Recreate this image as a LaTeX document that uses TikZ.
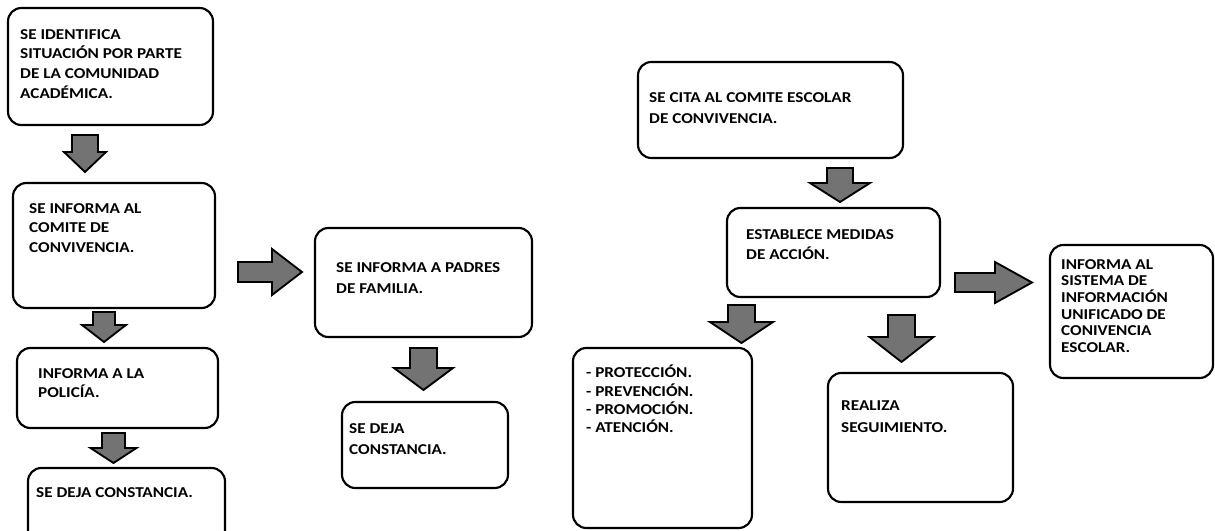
\documentclass[tikz,border=0pt]{standalone}
\usepackage{fontspec}
\setmainfont{Carlito}[FakeStretch=1.14]
\usepackage{tikz}
\usetikzlibrary{positioning,fit,calc}

% block arrows: centre, start, neck, tip, half shaft, half head
\newcommand\dnarrow[6]{%
  \draw[blk] (#1-#5,#2) -- (#1+#5,#2) -- (#1+#5,#3) -- (#1+#6,#3) -- (#1,#4)
    -- (#1-#6,#3) -- (#1-#5,#3) -- cycle;}
\newcommand\rtarrow[6]{%
  \draw[blk] (#2,#1-#5) -- (#3,#1-#5) -- (#3,#1-#6) -- (#4,#1) -- (#3,#1+#6)
    -- (#3,#1+#5) -- (#2,#1+#5) -- cycle;}

\begin{document}
\begin{tikzpicture}[
        x=0.75pt, y=-0.75pt,
        box/.style={rectangle, draw=black, fill=white, line width=1.6pt, rounded corners=10pt, inner sep=0pt},
        txt/.style={inner sep=0pt, align=left, font=\bfseries\fontsize{11.3}{14.8}\selectfont},
        blk/.style={draw=black, fill=black!55, line width=1.4pt, line join=miter}
    ]
        \useasboundingbox (0,0) rectangle (1215,531);

        % left column
        \node[box, fit={(8,8) (213,125)}] (ident) {};
        \node[box, fit={(13,183) (215,308)}] (comite) {};
        \node[box, fit={(17,348) (218,428)}] (policia) {};
        \node[box, fit={(28,468) (225,545)}] (constancia) {};

        \node[txt, below right=16.5pt and 9.75pt of ident.north west] (ident-t)
            {SE IDENTIFICA\\SITUACIÓN POR PARTE\\DE LA COMUNIDAD\\ACADÉMICA.};
        \node[txt, below right=15.75pt and 12.75pt of comite.north west] (comite-t)
            {SE INFORMA AL\\COMITE DE\\CONVIVENCIA.};
        \node[txt, below right=15.75pt and 16.5pt of policia.north west] (policia-t)
            {INFORMA A LA\\POLICÍA.};
        \node[txt, below right=15pt and 6.75pt of constancia.north west] (constancia-t)
            {SE DEJA CONSTANCIA.};

        % padres
        \node[box, fit={(315,228) (532,337)}] (padres) {};
        \node[box, fit={(342,402) (508,488)}] (constpadres) {};

        \node[txt, font=\bfseries\fontsize{11.3}{16}\selectfont, below right=26.25pt and 16.5pt of padres.north west] (padres-t)
            {SE INFORMA A PADRES\\DE FAMILIA.};
        \node[txt, font=\bfseries\fontsize{11.3}{16}\selectfont, below right=16.5pt and 6pt of constpadres.north west] (constpadres-t)
            {SE DEJA\\CONSTANCIA.};

        % comite escolar
        \node[box, fit={(638,62) (903,158)}] (cita) {};
        \node[box, fit={(727,208) (940,297)}] (medidas) {};
        \node[box, fit={(573,348) (752,528)}] (acciones) {};
        \node[box, fit={(828,373) (1013,502)}] (seguim) {};
        \node[box, fit={(1050,245) (1213,378)}] (sistema) {};

        \node[txt, font=\bfseries\fontsize{11.3}{16}\selectfont, below right=23.25pt and 9pt of cita.north west] (cita-t)
            {SE CITA AL COMITE ESCOLAR\\DE CONVIVENCIA.};
        \node[txt, font=\bfseries\fontsize{11.3}{15}\selectfont, below right=16.5pt and 15pt of medidas.north west] (medidas-t)
            {ESTABLECE MEDIDAS\\DE ACCIÓN.};
        \node[txt, font=\bfseries\fontsize{11.3}{13.75}\selectfont, below right=13.5pt and 10.5pt of acciones.north west] (acciones-t)
            {- PROTECCIÓN.\\- PREVENCIÓN.\\- PROMOCIÓN.\\- ATENCIÓN.};
        \node[txt, font=\bfseries\fontsize{11.3}{16}\selectfont, below right=21.75pt and 10.5pt of seguim.north west] (seguim-t)
            {REALIZA\\SEGUIMIENTO.};
        \node[txt, font=\bfseries\fontsize{11.3}{12.5}\selectfont, below right=11.25pt and 9pt of sistema.north west] (sistema-t)
            {INFORMA AL\\SISTEMA DE\\INFORMACIÓN\\UNIFICADO DE\\CONIVENCIA\\ESCOLAR.};

        % arrows
        \dnarrow{85}{135}{152}{172}{13}{21}
        \dnarrow{104}{312}{325}{342}{11}{22}
        \dnarrow{113.5}{433}{448}{463}{11.5}{23}
        \dnarrow{423.5}{348}{368}{390}{13.5}{29.5}
        \dnarrow{840}{168}{183}{202}{13}{30}
        \dnarrow{741.5}{305}{322}{343}{13.5}{31.5}
        \dnarrow{901.5}{315}{337}{362}{13.5}{32}
        \rtarrow{272}{238}{272}{302}{10}{23}
        \rtarrow{282.5}{955}{995}{1032}{9.5}{20.5}
    \end{tikzpicture}
\end{document}
